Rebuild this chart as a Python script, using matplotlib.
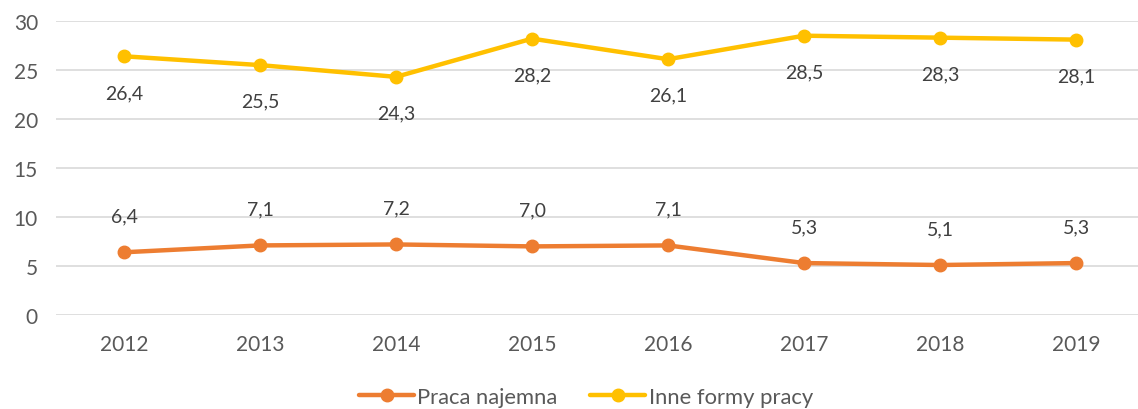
import matplotlib
matplotlib.use("Agg")
import matplotlib.pyplot as plt

years = ["2012", "2013", "2014", "2015", "2016", "2017", "2018", "2019"]
praca_najemna = [6.4, 7.1, 7.2, 7.0, 7.1, 5.3, 5.1, 5.3]
inne_formy = [26.4, 25.5, 24.3, 28.2, 26.1, 28.5, 28.3, 28.1]
yticks = [0, 5, 10, 15, 20, 25, 30]

plt.rcParams['font.family'] = ['Lato', 'DejaVu Sans']

W, H = 1138, 410
fig = plt.figure(figsize=(W / 100, H / 100), dpi=100)
ax = fig.add_axes([56 / W, 94 / H, (W - 56) / W, (388 - 94) / H])

orange = "#ED7D31"
yellow = "#FFC000"
x = list(range(len(years)))

ax.plot(x, praca_najemna, color=orange, lw=3.2, marker="o", ms=9,
        label="Praca najemna", solid_capstyle="round", zorder=3)
ax.plot(x, inne_formy, color=yellow, lw=3.2, marker="o", ms=9,
        label="Inne formy pracy", solid_capstyle="round", zorder=3)

for xi, v in zip(x, praca_najemna):
    ax.annotate(f"{v:.1f}".replace(".", ","), (xi, v), xytext=(0, 26),
                textcoords="offset points", ha="center", va="center",
                fontsize=14, color="#404040")
for xi, v in zip(x, inne_formy):
    ax.annotate(f"{v:.1f}".replace(".", ","), (xi, v), xytext=(0, -26),
                textcoords="offset points", ha="center", va="center",
                fontsize=14, color="#404040")

ax.set_ylim(0, 30)
ax.set_yticks(yticks)
ax.set_xlim(-0.5, (W - 56) / 136 - 0.5)
ax.set_xticks(x)
ax.set_xticklabels(years)
ax.grid(axis="y", color="#D9D9D9", lw=1.2)
ax.set_axisbelow(True)
for s in ax.spines.values():
    s.set_visible(False)
ax.tick_params(axis="both", length=0, labelsize=15, labelcolor="#595959")
ax.tick_params(axis="y", pad=13)
ax.tick_params(axis="x", pad=14)

leg = fig.legend(loc="center", bbox_to_anchor=(586 / W, 1 - 398 / H), ncol=2,
                 frameon=False, fontsize=15.8, handlelength=2.5,
                 columnspacing=1.5, handletextpad=0.15)
for t in leg.get_texts():
    t.set_color("#595959")

fig.savefig("out.png", dpi=100)
